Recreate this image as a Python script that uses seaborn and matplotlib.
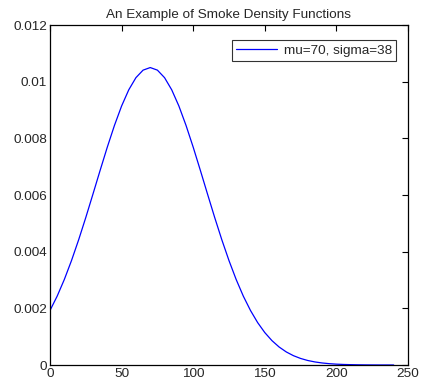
import numpy as np
import pandas as pd
import seaborn as sns
import matplotlib.pyplot as plt

# --- data ---
x_vals = list(range(0, 245, 5))
density = [0.001925, 0.002430, 0.003018, 0.003684, 0.004418, 0.005207, 0.006033,
           0.006869, 0.007687, 0.008455, 0.009141, 0.009712, 0.010141, 0.010407,
           0.010498, 0.010407, 0.010141, 0.009712, 0.009141, 0.008455, 0.007687,
           0.006869, 0.006033, 0.005207, 0.004418, 0.003684, 0.003018, 0.002430,
           0.001925, 0.001497, 0.001144, 0.000860, 0.000635, 0.000461, 0.000329,
           0.000231, 0.000159, 0.000108, 0.000072, 0.000047, 0.000030, 0.000019,
           0.000012, 0.000007, 0.000004, 0.000002, 0.000001, 0.000001, 0.0]
label = "mu=70, sigma=38"
title = "An Example of Smoke Density Functions"

df = pd.DataFrame({"x": x_vals, "density": density})

sns.set_style("white")
plt.rcParams['font.family'] = ['Liberation Sans', 'DejaVu Sans']

fig = plt.figure(figsize=(4.22, 3.85), dpi=100)
ax = fig.add_axes([50 / 422, 1 - 365 / 385, 358 / 422, 340 / 385])

sns.lineplot(data=df, x="x", y="density", color="#0000ff", linewidth=0.9,
             label=label, ax=ax)

ax.set_xlim(0, 250)
ax.set_ylim(0, 0.012)
ax.set_xticks([0, 50, 100, 150, 200, 250])
ax.set_yticks([0, 0.002, 0.004, 0.006, 0.008, 0.01, 0.012])
ax.set_yticklabels(["0", "0.002", "0.004", "0.006", "0.008", "0.01", "0.012"])
ax.set_xlabel("")
ax.set_ylabel("")
ax.set_title(title, fontsize=9.7, pad=5)
ax.tick_params(direction="in", length=4, width=0.8, labelsize=9.7,
               top=True, right=True, pad=2, color="black")
for s in ax.spines.values():
    s.set_color("black")
    s.set_linewidth(0.9)

leg = ax.legend(loc="upper right", fontsize=9.7, frameon=True, fancybox=False,
                handlelength=3.0, handletextpad=0.5, borderpad=0.3,
                bbox_to_anchor=(0.985, 0.975))
leg.get_frame().set_edgecolor("black")
leg.get_frame().set_linewidth(0.8)

plt.savefig("out.png", dpi=100)
plt.close()
